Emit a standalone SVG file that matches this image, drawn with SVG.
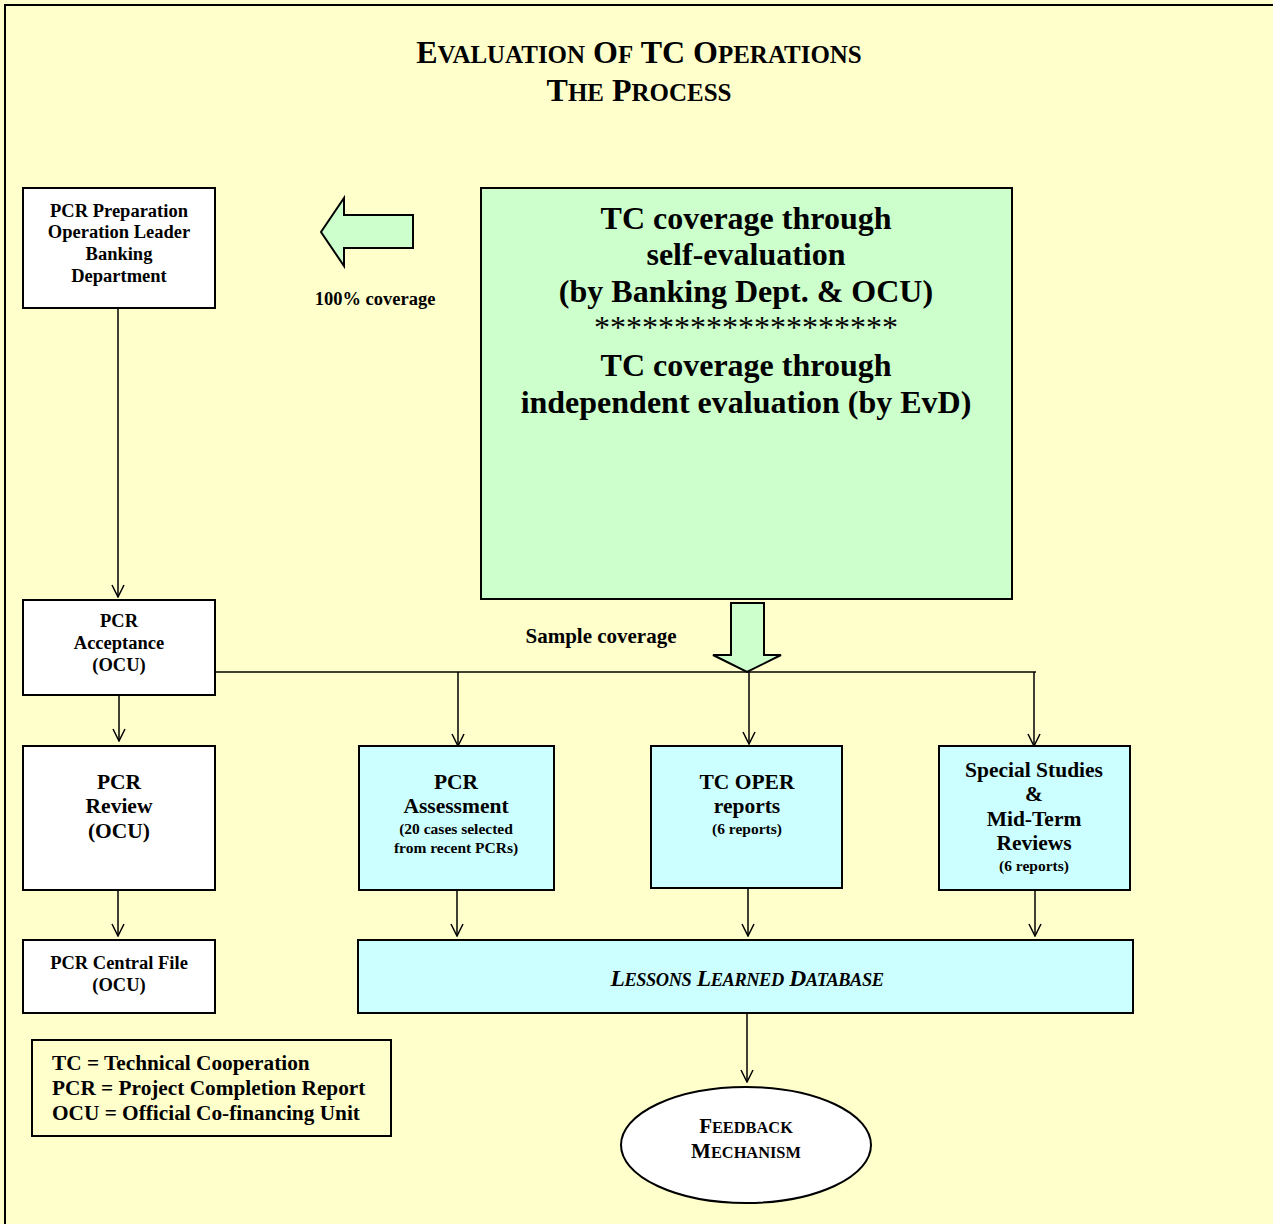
<svg xmlns="http://www.w3.org/2000/svg" width="1273" height="1224" viewBox="0 0 1273 1224">
<style>
text{font-family:"Liberation Serif","Times New Roman",serif;font-weight:bold;fill:#000;text-anchor:middle}
.box{stroke:#000;stroke-width:2}
.w{fill:#fff}
.c{fill:#CCFFFF}
.g{fill:#CCFFCC}
.t18{font-size:18.5px}
.t21{font-size:21.5px}
.t15{font-size:15.5px}
.big{font-size:32px}
.s{font-size:0.78em}
.ln{stroke:#000;stroke-width:1.5;fill:none}
</style>
<defs>
<marker id="ah" markerWidth="14" markerHeight="14" refX="13" refY="7" orient="auto" markerUnits="userSpaceOnUse" viewBox="0 0 14 14">
<path d="M1,1 L13,7 L1,13" fill="none" stroke="#000" stroke-width="1.5"/>
</marker>
</defs>
<rect x="0" y="0" width="1273" height="1224" fill="#FFFFCC"/>
<rect x="5" y="5" width="1280" height="1240" fill="none" stroke="#000" stroke-width="2"/>
<g id="title">
<text x="639" y="63" font-size="32">E<tspan class="s">VALUATION</tspan> O<tspan class="s">F</tspan> TC O<tspan class="s">PERATIONS</tspan></text>
<text x="639" y="101" font-size="32">T<tspan class="s">HE</tspan> P<tspan class="s">ROCESS</tspan></text>
</g>
<g id="connectors">
<line class="ln" x1="118" y1="308" x2="118" y2="597" marker-end="url(#ah)" stroke-width="2"/>
<line class="ln" x1="119" y1="695" x2="119" y2="741" marker-end="url(#ah)"/>
<line class="ln" x1="118" y1="890" x2="118" y2="936" marker-end="url(#ah)"/>
<line class="ln" x1="215" y1="672" x2="1036" y2="672" stroke-width="2"/>
<line class="ln" x1="458" y1="672" x2="458" y2="746" marker-end="url(#ah)" stroke-width="1.2"/>
<line class="ln" x1="749" y1="672" x2="749" y2="744" marker-end="url(#ah)" stroke-width="1.2"/>
<line class="ln" x1="1034" y1="672" x2="1034" y2="746" marker-end="url(#ah)" stroke-width="1.2"/>
<line class="ln" x1="457" y1="890" x2="457" y2="936" marker-end="url(#ah)"/>
<line class="ln" x1="748" y1="888" x2="748" y2="936" marker-end="url(#ah)"/>
<line class="ln" x1="1035" y1="890" x2="1035" y2="936" marker-end="url(#ah)"/>
<line class="ln" x1="747" y1="1013" x2="747" y2="1082" marker-end="url(#ah)"/>
<polygon points="321,232 344,198 344,215 413,215 413,248 344,248 344,266" class="g" stroke="#000" stroke-width="2"/>
<polygon points="731,603 764,603 764,655 781,655 747,672 713,655 731,655" class="g" stroke="#000" stroke-width="2"/>
</g>
<g id="label-100">
<text class="t18" x="375" y="305">100% coverage</text>
</g>
<g id="label-sample">
<text x="601" y="643" font-size="21">Sample coverage</text>
</g>
<g id="pcr-prep">
<rect class="box w" x="23" y="188" width="192" height="120"/>
<text class="t18" x="119" y="217">PCR Preparation</text>
<text class="t18" x="119" y="238">Operation Leader</text>
<text class="t18" x="119" y="260">Banking</text>
<text class="t18" x="119" y="282">Department</text>
</g>
<g id="coverage">
<rect class="box g" x="481" y="188" width="531" height="411"/>
<text class="big" x="746" y="229">TC coverage through</text>
<text class="big" x="746" y="265">self-evaluation</text>
<text class="big" x="746" y="302">(by Banking Dept. &amp; OCU)</text>
<text x="746" y="338" font-size="32" style="font-weight:normal">*******************</text>
<text class="big" x="746" y="376">TC coverage through</text>
<text class="big" x="746" y="413">independent evaluation (by EvD)</text>
</g>
<g id="pcr-accept">
<rect class="box w" x="23" y="600" width="192" height="95"/>
<text class="t18" x="119" y="627">PCR</text>
<text class="t18" x="119" y="649">Acceptance</text>
<text class="t18" x="119" y="671">(OCU)</text>
</g>
<g id="pcr-review">
<rect class="box w" x="23" y="746" width="192" height="144"/>
<text class="t21" x="119" y="789">PCR</text>
<text class="t21" x="119" y="813">Review</text>
<text class="t21" x="119" y="838">(OCU)</text>
</g>
<g id="pcr-central">
<rect class="box w" x="23" y="940" width="192" height="73"/>
<text class="t18" x="119" y="969">PCR Central File</text>
<text class="t18" x="119" y="991">(OCU)</text>
</g>
<g id="pcr-assessment">
<rect class="box c" x="359" y="746" width="195" height="144"/>
<text class="t21" x="456" y="789">PCR</text>
<text class="t21" x="456" y="813">Assessment</text>
<text class="t15" x="456" y="834">(20 cases selected</text>
<text class="t15" x="456" y="853">from recent PCRs)</text>
</g>
<g id="tc-oper">
<rect class="box c" x="651" y="746" width="191" height="142"/>
<text class="t21" x="747" y="789">TC OPER</text>
<text class="t21" x="747" y="813">reports</text>
<text class="t15" x="747" y="834">(6 reports)</text>
</g>
<g id="special">
<rect class="box c" x="939" y="746" width="191" height="144"/>
<text class="t21" x="1034" y="777">Special Studies</text>
<text class="t21" x="1034" y="801">&amp;</text>
<text class="t21" x="1034" y="826">Mid-Term</text>
<text class="t21" x="1034" y="850">Reviews</text>
<text class="t15" x="1034" y="871">(6 reports)</text>
</g>
<g id="lessons">
<rect class="box c" x="358" y="940" width="775" height="73"/>
<text x="747" y="986" font-size="23.5" font-style="italic" letter-spacing="-0.4">L<tspan class="s">ESSONS</tspan> L<tspan class="s">EARNED</tspan> D<tspan class="s">ATABASE</tspan></text>
</g>
<g id="feedback">
<ellipse class="box w" cx="746" cy="1145" rx="125" ry="58"/>
<text x="746" y="1133" font-size="21">F<tspan class="s">EEDBACK</tspan></text>
<text x="746" y="1158" font-size="21">M<tspan class="s">ECHANISM</tspan></text>
</g>
<g id="legend">
<rect class="box" x="32" y="1040" width="359" height="96" fill="#FFFFCC"/>
<text x="52" y="1070" font-size="21.3" style="text-anchor:start">TC = Technical Cooperation</text>
<text x="52" y="1095" font-size="21.3" style="text-anchor:start">PCR = Project Completion Report</text>
<text x="52" y="1120" font-size="21.3" style="text-anchor:start">OCU = Official Co-financing Unit</text>
</g>
</svg>
